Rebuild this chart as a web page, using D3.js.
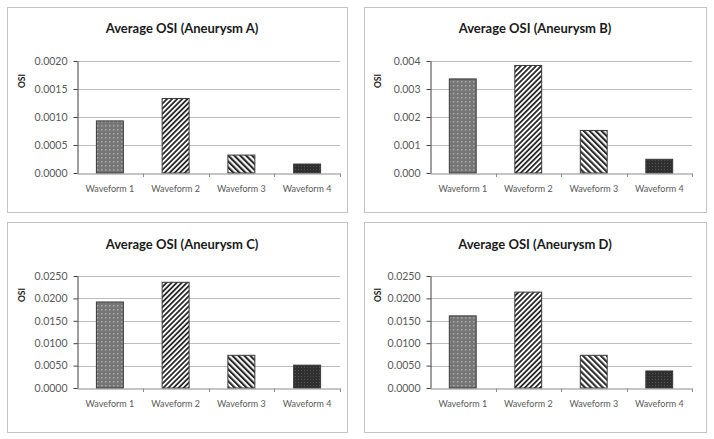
<!DOCTYPE html>
<html>
<head>
<meta charset="utf-8">
<script src="https://cdn.jsdelivr.net/npm/d3@7"></script>
<style>
  html, body { margin: 0; padding: 0; background: #fff; }
  svg { display: block; }
  text { font-family: Lato, "Open Sans", sans-serif; }
</style>
</head>
<body>
<svg id="chart" width="714" height="439"></svg>
<script>
// ---- data ----
const categories = ["Waveform 1", "Waveform 2", "Waveform 3", "Waveform 4"];
const titles = ["Average OSI (Aneurysm A)", "Average OSI (Aneurysm B)", "Average OSI (Aneurysm C)", "Average OSI (Aneurysm D)"];
const osiA = [0.00093, 0.00133, 0.00032, 0.00016];
const osiB = [0.00336, 0.00384, 0.00152, 0.00049];
const osiC = [0.0192, 0.0236, 0.0073, 0.0051];
const osiD = [0.0161, 0.0214, 0.0073, 0.0038];
const ticksA = [0, 0.0005, 0.0010, 0.0015, 0.0020];
const ticksB = [0, 0.001, 0.002, 0.003, 0.004];
const ticksC = [0, 0.005, 0.010, 0.015, 0.020, 0.025];
const ticksD = [0, 0.005, 0.010, 0.015, 0.020, 0.025];
const tickFormats = [".4f", ".3f", ".4f", ".4f"];
const yLabel = "OSI";

// ---- layout ----
const panels = [
  { title: titles[0], values: osiA, ticks: ticksA, fmt: tickFormats[0],
    box: {x: 7.5, y: 7.5, w: 340, h: 205}, plot: {l: 77, t: 61, r: 340, b: 173}, titleX: 182, titleY: 33, labX: 25, labY: 81 },
  { title: titles[1], values: osiB, ticks: ticksB, fmt: tickFormats[1],
    box: {x: 364.5, y: 7.5, w: 342, h: 205}, plot: {l: 430, t: 61, r: 692, b: 173}, titleX: 535, titleY: 33, labX: 381, labY: 81 },
  { title: titles[2], values: osiC, ticks: ticksC, fmt: tickFormats[2],
    box: {x: 7.5, y: 222.5, w: 340, h: 210}, plot: {l: 77, t: 276, r: 340, b: 388}, titleX: 182, titleY: 249, labX: 25, labY: 295 },
  { title: titles[3], values: osiD, ticks: ticksD, fmt: tickFormats[3],
    box: {x: 364.5, y: 222.5, w: 342, h: 210}, plot: {l: 430, t: 276, r: 692, b: 388}, titleX: 535, titleY: 249, labX: 381, labY: 295 }
];

const svg = d3.select("#chart");
const defs = svg.append("defs");

// patterns
const p1 = defs.append("pattern").attr("id", "pat1").attr("patternUnits", "userSpaceOnUse").attr("width", 4).attr("height", 4);
p1.append("rect").attr("width", 4).attr("height", 4).attr("fill", "#767676");
p1.append("rect").attr("x", 1).attr("y", 1).attr("width", 1.5).attr("height", 1.5).attr("fill", "#aaaaaa");

const p2 = defs.append("pattern").attr("id", "pat2").attr("patternUnits", "userSpaceOnUse")
  .attr("width", 3.6).attr("height", 10).attr("patternTransform", "rotate(45)");
p2.append("rect").attr("width", 3.6).attr("height", 10).attr("fill", "#fff");
p2.append("rect").attr("width", 1.8).attr("height", 10).attr("fill", "#2a2a2a");

const p3 = defs.append("pattern").attr("id", "pat3").attr("patternUnits", "userSpaceOnUse")
  .attr("width", 4.2).attr("height", 10).attr("patternTransform", "rotate(-45)");
p3.append("rect").attr("width", 4.2).attr("height", 10).attr("fill", "#fff");
p3.append("rect").attr("width", 2.1).attr("height", 10).attr("fill", "#2a2a2a");

const p4 = defs.append("pattern").attr("id", "pat4").attr("patternUnits", "userSpaceOnUse").attr("width", 3).attr("height", 3);
p4.append("rect").attr("width", 3).attr("height", 3).attr("fill", "#2f2f2f");
p4.append("rect").attr("x", 1).attr("y", 1).attr("width", 1).attr("height", 1).attr("fill", "#555");

const fills = ["url(#pat1)", "url(#pat2)", "url(#pat3)", "url(#pat4)"];

panels.forEach(p => {
  const g = svg.append("g");
  g.append("rect").attr("x", p.box.x).attr("y", p.box.y).attr("width", p.box.w).attr("height", p.box.h)
    .attr("fill", "#fff").attr("stroke", "#c4c4c4").attr("stroke-width", 1);

  const x = d3.scaleBand().domain(categories).range([p.plot.l, p.plot.r]).padding(0);
  const y = d3.scaleLinear().domain([0, d3.max(p.ticks)]).range([p.plot.b, p.plot.t]);

  // gridlines
  g.selectAll(".grid").data(p.ticks.slice(1)).join("line")
    .attr("x1", p.plot.l).attr("x2", p.plot.r)
    .attr("y1", d => Math.round(y(d)) + 0.5).attr("y2", d => Math.round(y(d)) + 0.5)
    .attr("stroke", "#bdbdbd").attr("stroke-width", 1);

  // bars
  const bw = x.bandwidth() * 0.41;
  g.selectAll(".bar").data(p.values).join("rect")
    .attr("x", (d, i) => x(categories[i]) + (x.bandwidth() - bw) / 2)
    .attr("y", d => y(d))
    .attr("width", bw)
    .attr("height", d => y(0) - y(d))
    .attr("fill", (d, i) => fills[i])
    .attr("stroke", "#3a3a3a").attr("stroke-width", 1);

  // x axis
  const xAxis = g.append("g").attr("transform", `translate(0,${Math.round(y(0)) + 0.5})`)
    .call(d3.axisBottom(x).tickSize(0).tickPadding(12));
  xAxis.select(".domain").attr("stroke", "#8c8c8c");
  xAxis.selectAll("text").attr("fill", "#595959").style("font-size", "9px");
  // category separator ticks
  g.selectAll(".xt").data(categories.slice(1).concat(["end"])).join("line")
    .attr("x1", (d, i) => Math.round(p.plot.l + x.step() * (i + 1)) + 0.5)
    .attr("x2", (d, i) => Math.round(p.plot.l + x.step() * (i + 1)) + 0.5)
    .attr("y1", Math.round(y(0)) + 0.5).attr("y2", Math.round(y(0)) + 4)
    .attr("stroke", "#8c8c8c");

  // y axis
  const yAxis = g.append("g").attr("transform", `translate(${p.plot.l + 0.5},0)`)
    .call(d3.axisLeft(y).tickValues(p.ticks).tickFormat(d3.format(p.fmt)).tickSize(4).tickPadding(6).tickSizeOuter(0));
  yAxis.select(".domain").attr("stroke", "#404040");
  yAxis.selectAll(".tick line").attr("stroke", "#404040");
  yAxis.selectAll("text").attr("fill", "#595959").style("font-size", "10.5px");

  // title
  g.append("text").attr("x", p.titleX).attr("y", p.titleY).attr("text-anchor", "middle")
    .style("font-size", "13px").style("font-weight", "bold").attr("fill", "#1a1a1a").text(p.title);

  // y label
  g.append("text").attr("transform", `translate(${p.labX},${p.labY}) rotate(-90)`)
    .attr("text-anchor", "middle").style("font-size", "8.5px").style("font-weight", "bold")
    .attr("fill", "#1a1a1a").text(yLabel);
});
</script>
</body>
</html>
